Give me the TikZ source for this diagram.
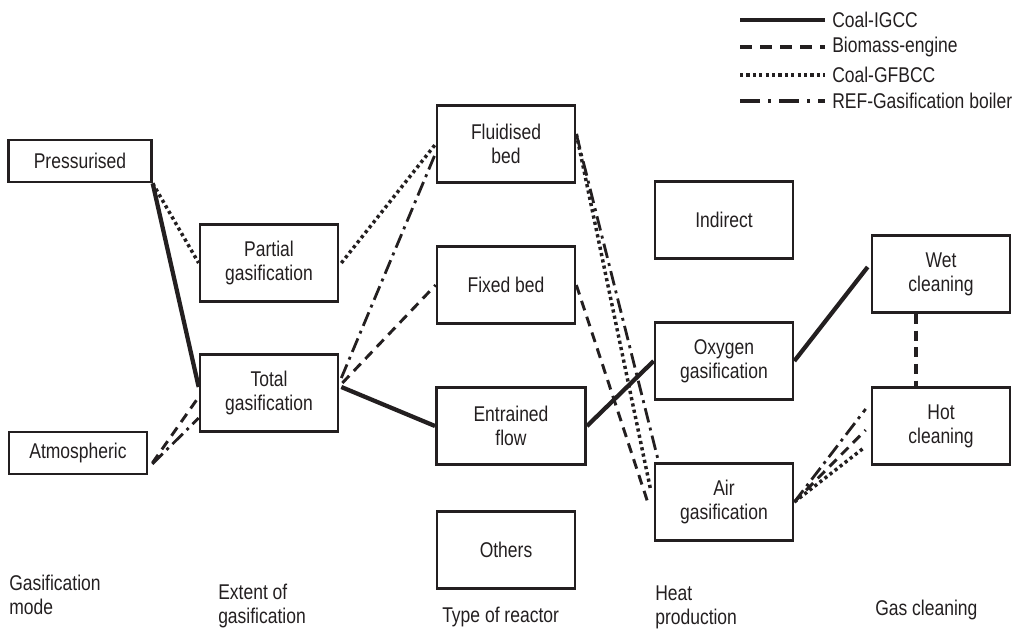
\documentclass[tikz,border=0pt]{standalone}
\usepackage{fontspec}
\setmainfont{Liberation Sans}[FakeStretch=0.82]
\usepackage{tikz}
\usetikzlibrary{calc,positioning}
\definecolor{ink}{HTML}{231F20}

\begin{document}
\begin{tikzpicture}
  [
    x=0.75pt, y=-0.75pt,
    every node/.style={text=ink, font=\fontsize{16}{18}\selectfont},
    Box/.style={rectangle, draw=ink, line width=2pt, minimum width=103.5pt, minimum height=57.75pt, align=center, inner sep=0pt},
    Flat/.style={Box, minimum height=31.5pt},
    Caption/.style={anchor=west, align=left, inner sep=0pt},
    Coal/.style={draw=ink, line width=3.2pt},
    Biomass/.style={draw=ink, line width=2.2pt, dash pattern=on 7.5pt off 5pt},
    Gfbcc/.style={draw=ink, line width=2.6pt, dash pattern=on 2.4pt off 2.4pt},
    Ref/.style={draw=ink, line width=2.1pt, dash pattern=on 11pt off 4pt on 2.2pt off 4pt}
  ]
  \useasboundingbox (0,0) rectangle (1014,640);
  % Nodes
  \node[Flat, minimum width=107pt] (press) at (80,161) {Pressurised};
  \node[Flat] (atmos) at (78,453) {Atmospheric};
  \node[Box] (partial) at (269,263) {Partial\\gasification};
  \node[Box] (total) at (269,393) {Total\\gasification};
  \node[Box] (fluid) at (506,144) {Fluidised\\bed};
  \node[Box] (fixed) at (506,285) {Fixed bed};
  \node[Box, minimum width=112pt] (entrained) at (511,426) {Entrained\\flow};
  \node[Box] (others) at (506,550) {Others};
  \node[Box] (indirect) at (724,220) {Indirect};
  \node[Box] (oxygen) at (724,361) {Oxygen\\gasification};
  \node[Box] (air) at (724,502) {Air\\gasification};
  \node[Box] (wet) at (941,274) {Wet\\cleaning};
  \node[Box] (hot) at (941,426) {Hot\\cleaning};
  % Column captions
  \node[Caption] (capmode) at (9,595) {Gasification\\mode};
  \node[Caption] (capextent) at (218,606) {Extent of\\gasification};
  \node[Caption] (captype) at (442,617) {Type of reactor};
  \node[Caption] (capheat) at (655,607) {Heat\\production};
  \node[Caption] (capclean) at (875,610) {Gas cleaning};
  % Legend
  \node[Caption] (keycoal) at (832,20) {Coal-IGCC};
  \node[Caption] (keybio) at (832,47) {Biomass-engine};
  \node[Caption] (keygf) at (832,75) {Coal-GFBCC};
  \node[Caption] (keyref) at (832,101) {REF-Gasification boiler};
  \coordinate (k1) at (740,20);
  \coordinate (k2) at (740,47);
  \coordinate (k3) at (740,75);
  \coordinate (k4) at (740,101);
  \path [Coal, line width=3.6pt] (k1) -- ($(keycoal.west)+(-7,0)$);
  \path [Biomass, line width=3pt, dash pattern=on 9pt off 6pt] (k2) -- ($(keybio.west)+(-7,0)$);
  \path [Gfbcc] (k3) -- ($(keygf.west)+(-7,0)$);
  \path [Ref, line width=3pt, dash pattern=on 15pt off 6pt on 2.4pt off 6pt] (k4) -- ($(keyref.west)+(-7,0)$);
  % Lines
  \path [Gfbcc] (press.south east) -- (partial.west);
  \path [Coal] (press.south east) -- ($(total.west)+(0,-6)$);
  \path [Biomass] ($(atmos.east)+(4,10)$) -- ($(total.west)+(0,4)$);
  \path [Ref] ($(atmos.east)+(4,11)$) -- ($(total.west)+(0,25)$);
  \path [Gfbcc] ($(partial.east)+(2,0)$) -- (fluid.west);
  \path [Ref] ($(total.east)+(2,-15)$) -- ($(fluid.west)+(0,9)$);
  \path [Biomass] ($(total.east)+(3,-10)$) -- (fixed.west);
  \path [Coal] ($(total.east)+(2,-6)$) -- (entrained.west);
  \path [Gfbcc] ($(fluid.east)+(0,-10)$) -- ($(air.west)+(-3,-12)$);
  \path [Ref] ($(fluid.east)+(0,-10)$) -- ($(air.north west)+(5,0)$);
  \path [Biomass] (fixed.east) -- ($(air.west)+(-5,3)$);
  \path [Coal] (entrained.east) -- (oxygen.west);
  \path [Coal] (oxygen.east) -- ($(wet.west)+(-3,-7)$);
  \path [Biomass, line width=3pt] ($(wet.south)+(-25,0)$) -- ($(hot.north)+(-25,0)$);
  \path [Ref] (air.east) -- ($(hot.west)+(-5,-17)$);
  \path [Biomass] (air.east) -- ($(hot.west)+(-5,4)$);
  \path [Gfbcc] (air.east) -- ($(hot.west)+(-7,22)$);
\end{tikzpicture}
\end{document}
